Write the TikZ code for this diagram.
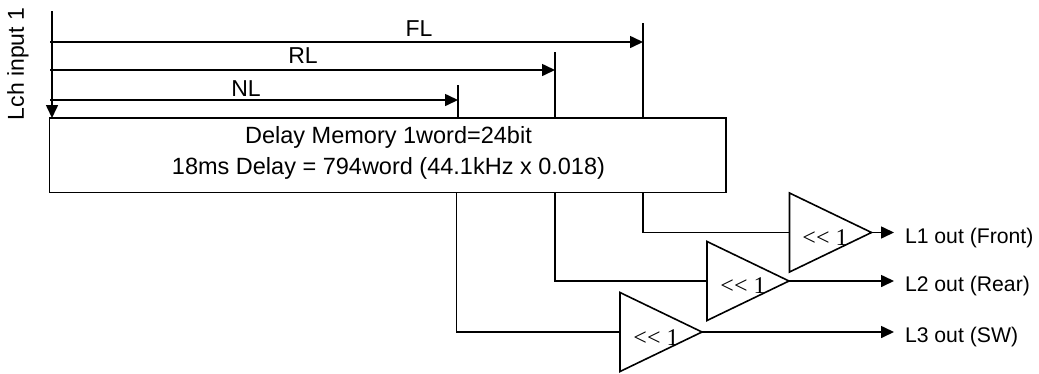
\documentclass[tikz,border=0pt]{standalone}
\usepackage{fontspec}
\setmainfont{Liberation Sans}
\newfontfamily\serifface{Liberation Serif}
\usetikzlibrary{arrows.meta,shapes.geometric}
\tikzset{
  wire/.style={draw=black,line width=1.6bp},
  flow/.style={wire,-{Triangle[length=13bp,width=12bp]},shorten >=0bp},
  membox/.style={draw=black,line width=1.6bp,fill=white,minimum width=676.5bp,minimum height=74.5bp,inner sep=0pt,outer sep=0pt,anchor=north west},
  memtext/.style={inner sep=0pt,outer sep=0pt,align=center,font=\fontsize{23.5bp}{31bp}\selectfont},
  label/.style={inner sep=0pt,outer sep=0pt,font=\fontsize{23bp}{26bp}\selectfont},
  outlabel/.style={inner sep=0pt,outer sep=0pt,anchor=west,font=\fontsize{21.2bp}{24bp}\selectfont},
  gain/.style={draw=black,line width=1.6bp,isosceles triangle,isosceles triangle apex angle=51.5,isosceles triangle stretches,minimum height=82bp,minimum width=79bp,inner sep=0pt,outer sep=0pt,anchor=lower side},
  gaintext/.style={inner sep=0pt,outer sep=0pt,font=\fontsize{24bp}{26bp}\selectfont\serifface}
}
\begin{document}
\begin{tikzpicture}[x=1bp,y=-1bp]
\useasboundingbox (0,0) rectangle (1039,373);
\node[membox] (mem) at (49.5,118) {};
\node[memtext] (memt) at (388.5,152.5) {Delay Memory 1word=24bit\\18ms Delay = 794word (44.1kHz x 0.018)};
\node[label,rotate=90,anchor=center] (lch) at (18,64) {Lch input 1};
\coordinate (inTop) at (52,11);
\coordinate (inEnd) at (52,118);
\coordinate (flS) at (50,42);
\coordinate (rlS) at (50,70);
\coordinate (nlS) at (50,100);
\coordinate (flT) at (643,23);
\coordinate (rlT) at (555,52);
\coordinate (nlT) at (458,85);
\coordinate (flB) at (643,118);
\coordinate (rlB) at (555,118);
\coordinate (nlB) at (458,118);
\coordinate (flD) at (643,192.5);
\coordinate (rlD) at (555,192.5);
\coordinate (nlD) at (456.5,192.5);
\draw[flow] (inTop) -- (inEnd);
\draw[wire] (flT) -- (flB);
\draw[wire] (rlT) -- (rlB);
\draw[wire] (nlT) -- (nlB);
\draw[flow] (flS) -- (flS -| flT);
\draw[flow] (rlS) -- (rlS -| rlT);
\draw[flow] (nlS) -- (nlS -| nlT);
\node[label] (flL) at (419,29) {FL};
\node[label] (rlL) at (303,56) {RL};
\node[label] (nlL) at (246,89) {NL};
\node[gain] (g1) at (789.5,232.5) {};
\node[gain] (g2) at (707,281) {};
\node[gain] (g3) at (620,332) {};
\node[gaintext] (t1) at (825,238) {<{}< 1};
\node[gaintext] (t2) at (743,286) {<{}< 1};
\node[gaintext] (t3) at (656,338) {<{}< 1};
\draw[wire] (flD) |- (g1.lower side);
\draw[wire] (rlD) |- (g2.lower side);
\draw[wire] (nlD) |- (g3.lower side);
\node[outlabel] (o1) at (905,238.5) {L1 out (Front)};
\node[outlabel] (o2) at (905,286.5) {L2 out (Rear)};
\node[outlabel] (o3) at (905,337) {L3 out (SW)};
\coordinate (e1) at (894,232.5);
\coordinate (e2) at (894,281);
\coordinate (e3) at (894,332);
\draw[flow] (g1.apex) -- (e1);
\draw[flow] (g2.apex) -- (e2);
\draw[flow] (g3.apex) -- (e3);
\end{tikzpicture}
\end{document}
